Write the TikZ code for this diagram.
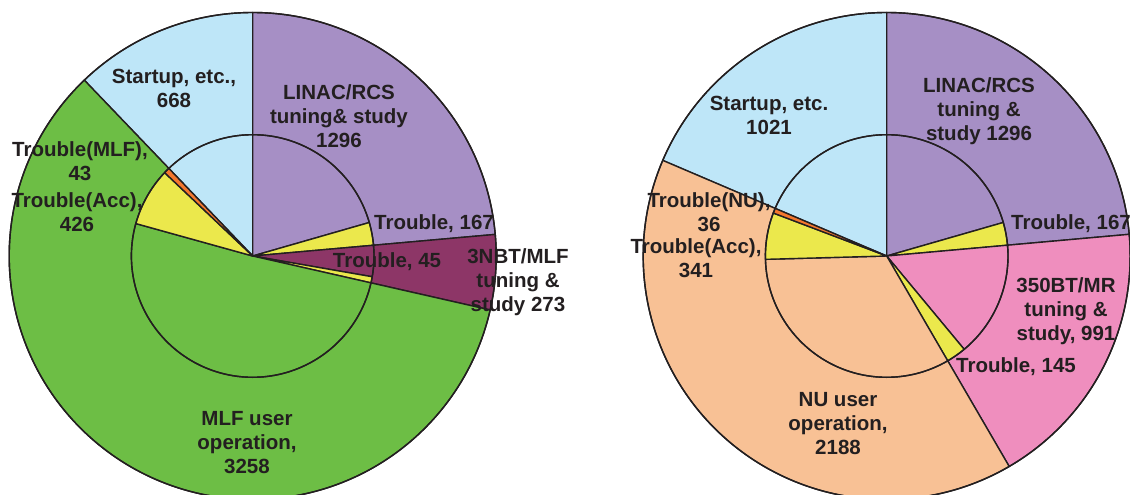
\documentclass[tikz,border=0pt]{standalone}
\usepackage{fontspec}
\setmainfont{Liberation Sans}
\definecolor{ink}{HTML}{231F20}
\definecolor{startup}{HTML}{BEE6F8}
\definecolor{linac}{HTML}{A68FC5}
\definecolor{nbt}{HTML}{8D3667}
\definecolor{mlf}{HTML}{6DBE45}
\definecolor{trouble}{HTML}{EBE84C}
\definecolor{troubleb}{HTML}{F4772E}
\definecolor{mr}{HTML}{EF8EBE}
\definecolor{nu}{HTML}{F8C195}
\tikzset{
  rim/.style={draw=ink, line width=1.4pt, line join=round},
  lbl/.style={text=ink, font=\bfseries\fontsize{20.5}{24}\selectfont, align=center, inner sep=0pt},
}
% sector: centre, start angle, end angle, radius, colour
\newcommand\piesector[5]{\filldraw[rim, fill=#5] (#1) -- ++(#2:#4) arc[start angle=#2, end angle=#3, radius=#4] -- cycle;}
\begin{document}
\begin{tikzpicture}[x=1pt, y=1pt]
\useasboundingbox (0,0) rectangle (1130,-495);
\clip (0,0) rectangle (1130,-495);
\def\Ro{243.5}
\def\Ri{121.3}
\coordinate (cl) at (252.7,-256);
\coordinate (cr) at (886.7,-256);

% ---- left chart: outer ring
\piesector{cl}{90}{133.76}{\Ro}{startup}
\piesector{cl}{5.09}{90}{\Ro}{linac}
\piesector{cl}{-12.80}{5.09}{\Ro}{nbt}
\piesector{cl}{133.76}{347.20}{\Ro}{mlf}
% ---- left chart: inner disc
\piesector{cl}{90}{133.76}{\Ri}{startup}
\piesector{cl}{16.03}{90}{\Ri}{linac}
\piesector{cl}{5.09}{16.03}{\Ri}{trouble}
\piesector{cl}{-9.85}{5.09}{\Ri}{nbt}
\piesector{cl}{-12.80}{-9.85}{\Ri}{trouble}
\piesector{cl}{164.49}{347.20}{\Ri}{mlf}
\piesector{cl}{136.58}{164.49}{\Ri}{trouble}
\piesector{cl}{133.76}{136.58}{\Ri}{troubleb}
\draw[rim] (cl) circle[radius=\Ri];
\draw[rim] (cl) circle[radius=\Ro];

% ---- right chart: outer ring
\piesector{cr}{90}{156.88}{\Ro}{startup}
\piesector{cr}{5.11}{90}{\Ro}{linac}
\piesector{cr}{-59.80}{5.11}{\Ro}{mr}
\piesector{cr}{156.88}{300.20}{\Ro}{nu}
% ---- right chart: inner disc
\piesector{cr}{90}{156.88}{\Ri}{startup}
\piesector{cr}{16.05}{90}{\Ri}{linac}
\piesector{cr}{5.11}{16.05}{\Ri}{trouble}
\piesector{cr}{-50.30}{5.11}{\Ri}{mr}
\piesector{cr}{-59.80}{-50.30}{\Ri}{trouble}
\piesector{cr}{181.58}{300.20}{\Ri}{nu}
\piesector{cr}{159.24}{181.58}{\Ri}{trouble}
\piesector{cr}{156.88}{159.24}{\Ri}{troubleb}
\draw[rim] (cr) circle[radius=\Ri];
\draw[rim] (cr) circle[radius=\Ro];

% ---- left chart labels
\node[lbl] (sL) at (174,-88) {Startup, etc.,\\668};
\node[lbl] (lL) at (339,-116) {LINAC/RCS\\tuning\& study\\1296};
\node[lbl] (tmL) at (80,-161) {Trouble(MLF),\\43};
\node[lbl] (taL) at (77,-212) {Trouble(Acc),\\426};
\node[lbl] (t167L) at (434,-224) {Trouble, 167};
\node[lbl] (t45L) at (387,-262) {Trouble, 45};
\node[lbl] (nbL) at (518,-282) {3NBT/MLF\\tuning \&\\study 273};
\node[lbl] (mlfL) at (247,-443) {MLF user\\operation,\\3258};

% ---- right chart labels
\node[lbl] (sR) at (769,-115) {Startup, etc.\\1021};
\node[lbl] (lR) at (979,-111) {LINAC/RCS\\tuning \&\\study 1296};
\node[lbl] (t167R) at (1071,-224) {Trouble, 167};
\node[lbl] (tnR) at (709,-212) {Trouble(NU),\\36};
\node[lbl] (taR) at (696,-258) {Trouble(Acc),\\341};
\node[lbl] (bmR) at (1066,-311) {350BT/MR\\tuning \&\\study, 991};
\node[lbl] (t145R) at (1016,-367) {Trouble, 145};
\node[lbl] (nuR) at (838,-424) {NU user\\operation,\\2188};
\end{tikzpicture}
\end{document}
